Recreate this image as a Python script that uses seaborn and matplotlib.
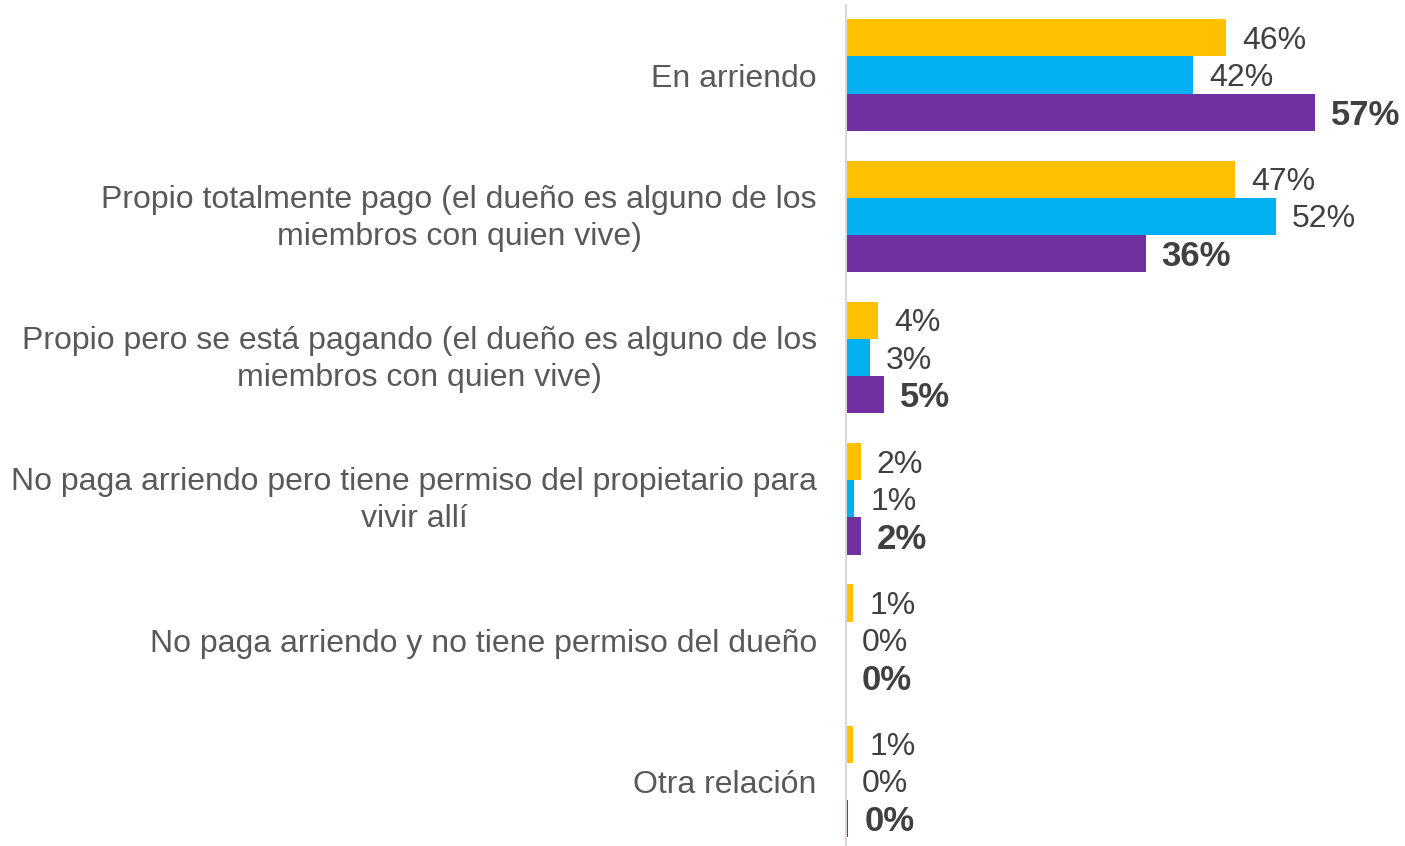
import matplotlib
matplotlib.use("Agg")
import matplotlib.pyplot as plt
from matplotlib.transforms import ScaledTranslation
import seaborn as sns
import pandas as pd

categories = [
    "En arriendo",
    "Propio totalmente pago (el dueño es alguno de los\nmiembros con quien vive)",
    "Propio pero se está pagando (el dueño es alguno de los\nmiembros con quien vive)",
    "No paga arriendo pero tiene permiso del propietario para\nvivir allí",
    "No paga arriendo y no tiene permiso del dueño",
    "Otra relación",
]
series_names = ["Serie 1", "Serie 2", "Serie 3"]
serie1 = [46.2, 47.3, 3.9, 1.8, 0.9, 0.9]
serie2 = [42.2, 52.2, 2.9, 1.0, 0.0, 0.0]
serie3 = [57.0, 36.4, 4.6, 1.8, 0.0, 0.3]
colors = ["#FFC000", "#00B0F0", "#7030A0"]

rows = []
for name, vals in zip(series_names, [serie1, serie2, serie3]):
    for c, v in zip(categories, vals):
        rows.append({"cat": c, "serie": name, "val": v})
df = pd.DataFrame(rows)

sns.set_theme(style="white")
plt.rcParams["font.family"] = ["Liberation Sans", "DejaVu Sans"]

fig = plt.figure(figsize=(14.05, 8.46), dpi=100)
ax = fig.add_axes([846 / 1405, 1 - 845 / 846, 559 / 1405, 840 / 846])

sns.barplot(data=df, y="cat", x="val", hue="serie", order=categories,
            hue_order=series_names, palette=colors, orient="h",
            width=0.79, saturation=1, legend=False, ax=ax, errorbar=None,
            linewidth=0)

for i, cont in enumerate(ax.containers):
    labels = [f"{v:.0f}%" for v in cont.datavalues]
    texts = ax.bar_label(cont, labels=labels, padding=11.5,
                         fontsize=25 if i == 2 else 23,
                         color="#404040", fontweight="bold" if i == 2 else "normal")
    for t in texts:
        x0, y0 = t.xyann
        t.xyann = (x0, y0 - 2.2)

ax.set_xlim(0, 67.9)
ax.set_ylim(5.45, -0.496)
ax.set_xlabel("")
ax.set_ylabel("")
ax.set_xticks([])
for s in ["top", "right", "bottom"]:
    ax.spines[s].set_visible(False)
ax.spines["left"].set_color("#D9D9D9")
ax.spines["left"].set_linewidth(1.5)
ax.tick_params(axis="y", length=0, pad=21, labelsize=23, labelcolor="#595959")
up = ScaledTranslation(0, 5 / 100, fig.dpi_scale_trans)
for t in ax.get_yticklabels():
    t.set_multialignment("center")
    t.set_linespacing(1.3)
    if "\n" in t.get_text():
        t.set_transform(t.get_transform() + up)

fig.savefig("out.png", dpi=100)
